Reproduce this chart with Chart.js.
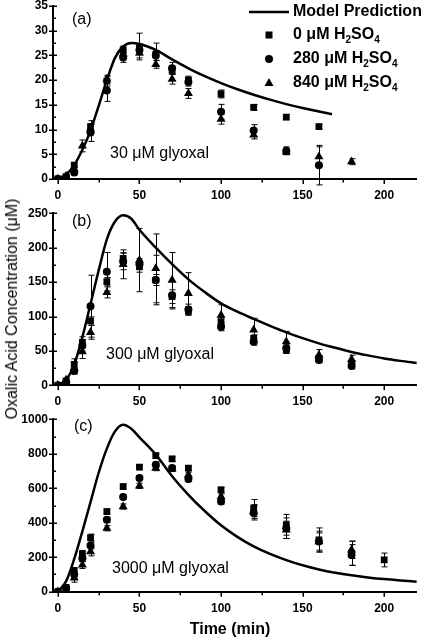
<!DOCTYPE html>
<html><head><meta charset="utf-8">
<script src="https://cdn.jsdelivr.net/npm/chart.js@4.4.0/dist/chart.umd.min.js"></script>
<style>
html,body{margin:0;padding:0;background:#fff;}
body{width:422px;height:640px;position:relative;overflow:hidden;font-family:"Liberation Sans",Arial,sans-serif;color:#000;}
canvas{position:absolute;left:0;}
#ytitle{position:absolute;left:12px;top:309px;transform:translate(-50%,-50%) rotate(-90deg);font-size:16px;white-space:nowrap;}
#xtitle{position:absolute;left:230px;top:629px;transform:translate(-50%,-50%);font-size:16px;font-weight:bold;white-space:nowrap;}
</style></head><body>
<canvas id="ca" width="422" height="206" style="top:0px"></canvas>
<canvas id="cb" width="422" height="207" style="top:206px"></canvas>
<canvas id="cc" width="422" height="227" style="top:413px"></canvas>
<div id="ytitle">Oxalic Acid Concentration (μM)</div>
<div id="xtitle">Time (min)</div>
<script>
// ---------- DATA ----------
const xTickValues = [0,25,50,75,100,125,150,175,200];
const xLabelValues = [0,50,100,150,200];
const seriesNames = ["0 μM H2SO4","280 μM H2SO4","840 μM H2SO4"];

// Panel (a): 30 uM glyoxal
const timeA = [0,5,10,15,20,30,40,50,60,70,80,100,120,140,160,180];
const a0    = [0,0.5,2.8,null,10.6,19.8,26.1,26.8,25.2,22.0,20.0,17.2,14.5,12.5,10.6,null];
const a280  = [0,0.3,1.3,null,9.4,17.9,24.6,26.1,25.0,22.4,19.6,13.6,9.8,5.7,2.8,null];
const a840  = [0,0.6,2.0,6.7,10.2,20.2,25.3,25.5,23.2,20.2,17.3,12.1,8.9,5.5,4.5,3.5];
const a0Err   = [0,0.3,0.5,0,1.2,1.0,0.8,2.7,2.3,0.8,0.8,0.8,0.6,0.5,0.5,0];
const a280Err = [0,0.3,0.5,0,1.8,2.2,1.0,1.0,1.0,1.2,0.8,1.5,1.2,0.8,4.0,0];
const a840Err = [0,0.3,0.5,1.2,0.8,0.8,0.8,1.0,0.8,1.0,1.0,1.0,0.8,0.5,2.0,0.6];
const modelTimeA = [0,5,10,15,20,25,30,35,40,45,50,55,60,70,80,90,100,110,120,130,140,150,160,168];
const modelA     = [0,0.9,2.8,5.9,9.8,14.8,20.0,24.5,26.8,27.5,27.3,26.8,26.1,24.2,22.4,20.8,19.4,18.15,17.05,16.05,15.15,14.35,13.65,13.1];
const yTicksA = [0,2.5,5,7.5,10,12.5,15,17.5,20,22.5,25,27.5,30,32.5,35];

// Panel (b): 300 uM glyoxal
const timeB = [0,5,10,15,20,30,40,50,60,70,80,100,120,140,160,180];
const b0    = [0,6,30.5,62.5,93.5,150.6,184.6,172.4,153,128.8,108,92.5,68.3,51.3,39.2,32];
const b280  = [0,4,21.2,58,115,165,180,176,153,131,110,85.2,63.4,53.8,36.8,28];
const b840  = [0,7.7,25,48.9,77,135,175.9,182,170,153,133.7,102,80.4,63.4,44,37.8];
const b0Err   = [0,3,8,8,6,6,8,8,36,10,6,6,5,5,4,4];
const b280Err = [0,3,5,8,45,28,12,8,8,20,8,6,5,5,4,4];
const b840Err = [0,3,8,10,10,8,21,46,50,40,30,15,17,15,8,6];
const modelTimeB = [0,5,10,15,20,25,30,35,40,45,50,60,70,80,90,100,110,120,130,140,150,160,170,180,190,200,210,220];
const modelB     = [0,8,30,70,118,167,212,238,247,242,226,200,176,154,135.5,119,107,96.5,86.5,77,68.5,61,54.5,48.5,43.5,39,35.5,32.5];
const yTicksB = [0,25,50,75,100,125,150,175,200,225,250];

// Panel (c): 3000 uM glyoxal
const timeC = [0,5,10,15,20,30,40,50,60,70,80,100,120,140,160,180,200];
const c0    = [0,25,120,219,314,465,610,723,789,770,717,591,485,388,300,223,184];
const c280  = [0,20,100,194,268,417,549,659,737,717,653,523,456,368,291,213,null];
const c840  = [0,15,80,155,233,368,494,614,717,712,678,552,465,359,291,243,null];
const c0Err   = [0,10,20,20,20,15,15,15,15,15,15,15,50,60,70,70,40];
const c280Err = [0,10,20,20,20,15,15,15,15,15,15,15,40,60,60,60,0];
const c840Err = [0,10,25,20,25,15,15,15,15,15,15,15,40,50,50,50,0];
const modelTimeC = [0,5,10,15,20,25,30,35,40,45,50,60,70,80,90,100,110,120,130,140,150,160,170,180,190,200,210,220];
const modelC     = [0,60,190,350,520,690,830,930,968,945,895,795,670,562,468,385,318,263,219,183,153,129,110,95,83,73,65,58];
const yTicksC = [0,100,200,300,400,500,600,700,800,900,1000];

// ---------- HELPERS ----------
function pts(times, vals, errs){
  const out=[];
  times.forEach((t,i)=>{ if(vals[i]!==null && vals[i]!==undefined) out.push({x:t,y:vals[i],e:errs?errs[i]:0}); });
  return out;
}
const FONT = '"Liberation Sans", Arial, sans-serif';

const errPlugin = {
  id:'errBars',
  beforeDatasetsDraw(chart){
    const ctx=chart.ctx, xs=chart.scales.x, ys=chart.scales.y;
    ctx.save(); ctx.strokeStyle='#000'; ctx.lineWidth=1;
    chart.data.datasets.forEach(ds=>{
      if(!ds.hasErr) return;
      ds.data.forEach(p=>{
        if(!p.e) return;
        const px=Math.round(xs.getPixelForValue(p.x))+0.5;
        const y1=ys.getPixelForValue(p.y+p.e), y2=ys.getPixelForValue(p.y-p.e);
        ctx.beginPath();
        ctx.moveTo(px,y1); ctx.lineTo(px,y2);
        ctx.moveTo(px-3,y1); ctx.lineTo(px+3,y1);
        ctx.moveTo(px-3,y2); ctx.lineTo(px+3,y2);
        ctx.stroke();
      });
    });
    ctx.restore();
  }
};

const tickPlugin = {
  id:'tickMarks',
  afterDraw(chart){
    const o=chart.options.plugins.tickMarks;
    const ctx=chart.ctx, xs=chart.scales.x, ys=chart.scales.y, ca=chart.chartArea;
    ctx.save(); ctx.strokeStyle='#000'; ctx.lineWidth=1.5;
    xs.ticks.forEach(t=>{
      const px=Math.round(xs.getPixelForValue(t.value))+0.25;
      const major = t.value % 50 === 0;
      ctx.beginPath(); ctx.moveTo(px,ca.bottom); ctx.lineTo(px,ca.bottom+(major?5:3.5)); ctx.stroke();
    });
    ys.ticks.forEach(t=>{
      const py=Math.round(ys.getPixelForValue(t.value))+0.25;
      const r=t.value/o.yMajor; const major=Math.abs(r-Math.round(r))<1e-6;
      ctx.beginPath(); ctx.moveTo(ca.left-(major?4:0),py); ctx.lineTo(ca.left+(major?4:3),py); ctx.stroke();
    });
    ctx.restore();
  }
};

const textPlugin = {
  id:'panelText',
  afterDraw(chart){
    const items=chart.options.plugins.panelText.items||[];
    const ctx=chart.ctx; ctx.save(); ctx.fillStyle='#000'; ctx.textBaseline='middle'; ctx.textAlign='left';
    items.forEach(it=>{ ctx.font=it.font; ctx.fillText(it.text,it.x,it.y); });
    ctx.restore();
  }
};

function drawSub(ctx,x,y,parts){
  parts.forEach(p=>{
    if(p.sub){ ctx.font='bold 10px '+FONT; ctx.fillText(p.t,x,y+5); }
    else { ctx.font='bold 16px '+FONT; ctx.fillText(p.t,x,y); }
    x+=ctx.measureText(p.t).width;
  });
}
function splitName(name){
  const m=name.match(/^(.*H)2(SO)4$/);
  return [{t:m[1]},{t:'2',sub:true},{t:m[2]},{t:'4',sub:true}];
}

const legendPlugin = {
  id:'legendA',
  afterDraw(chart){
    const o=chart.options.plugins.legendA; if(!o||!o.show) return;
    const ctx=chart.ctx; ctx.save(); ctx.fillStyle='#000'; ctx.strokeStyle='#000';
    ctx.textBaseline='middle'; ctx.textAlign='left';
    ctx.lineWidth=2.5; ctx.beginPath(); ctx.moveTo(249,12); ctx.lineTo(289,12); ctx.stroke();
    ctx.font='bold 16px '+FONT; ctx.fillText('Model Prediction',293,12);
    const rows=[35,59,83]; const styles=['rect','circle','triangle'];
    rows.forEach((ry,i)=>{
      const mx=269;
      ctx.beginPath();
      if(styles[i]==='rect'){ ctx.rect(mx-3.5,ry-3.5,7,7); }
      else if(styles[i]==='circle'){ ctx.arc(mx,ry,4,0,Math.PI*2); }
      else { ctx.moveTo(mx,ry-5); ctx.lineTo(mx+4.5,ry+3); ctx.lineTo(mx-4.5,ry+3); ctx.closePath(); }
      ctx.fill();
      drawSub(ctx,293,ry,splitName(seriesNames[i]));
    });
    ctx.restore();
  }
};

function makePanel(id, cfg){
  const canvas=document.getElementById(id);
  const H=canvas.height;
  const chartH=cfg.chartH;
  const datasets=[
    {type:'scatter',label:'Model Prediction',data:pts(cfg.mt,cfg.mv),showLine:true,borderColor:'#000',borderWidth:2.5,
     pointRadius:0,cubicInterpolationMode:'monotone',fill:false,order:0},
    {type:'scatter',label:seriesNames[0],data:pts(cfg.t,cfg.s0,cfg.e0),hasErr:true,pointStyle:'rect',pointRadius:4.8,
     backgroundColor:'#000',borderColor:'#000',borderWidth:0},
    {type:'scatter',label:seriesNames[1],data:pts(cfg.t,cfg.s1,cfg.e1),hasErr:true,pointStyle:'circle',pointRadius:4,
     backgroundColor:'#000',borderColor:'#000',borderWidth:0},
    {type:'scatter',label:seriesNames[2],data:pts(cfg.t,cfg.s2,cfg.e2),hasErr:true,pointStyle:'triangle',pointRadius:5.2,
     backgroundColor:'#000',borderColor:'#000',borderWidth:0}
  ];
  return new Chart(canvas,{
    type:'scatter',
    data:{datasets},
    plugins:[errPlugin,tickPlugin,textPlugin,legendPlugin],
    options:{
      responsive:false,animation:false,devicePixelRatio:1,
      layout:{padding:{top:cfg.top,left:0,right:3.5,bottom:0}},
      plugins:{legend:{display:false},tooltip:{enabled:false},
        tickMarks:{yMajor:cfg.yMajor},
        panelText:{items:cfg.texts},
        legendA:{show:!!cfg.legend}},
      scales:{
        x:{type:'linear',min:-3,max:220,
          grid:{display:false,drawTicks:false},border:{display:true,color:'#000',width:2},
          afterBuildTicks:s=>{s.ticks=xTickValues.map(v=>({value:v}));},
          ticks:{autoSkip:false,maxRotation:0,padding:cfg.xpad,color:'#000',font:{family:FONT,size:12,weight:'bold'},
            callback:v=>xLabelValues.includes(v)?String(v):''},
          afterFit:s=>{s.height=H-cfg.top-chartH;s.paddingLeft=0;s.paddingRight=0;}},
        y:{type:'linear',min:0,max:cfg.ymax,
          grid:{display:false,drawTicks:false},border:{display:true,color:'#000',width:2},
          afterBuildTicks:s=>{s.ticks=cfg.yTicks.map(v=>({value:v}));},
          ticks:{autoSkip:false,padding:5,color:'#000',font:{family:FONT,size:12,weight:'bold'},
            callback:v=>{const r=v/cfg.yMajor;return Math.abs(r-Math.round(r))<1e-6?String(v):'';}},
          afterFit:s=>{s.width=53;s.paddingTop=0;s.paddingBottom=0;}}
      }
    }
  });
}

makePanel('ca',{top:6,chartH:173,xpad:9,ymax:35,yMajor:5,yTicks:yTicksA,t:timeA,s0:a0,s1:a280,s2:a840,e0:a0Err,e1:a280Err,e2:a840Err,
  mt:modelTimeA,mv:modelA,legend:true,
  texts:[{text:'(a)',x:72,y:20,font:'16px '+FONT},{text:'30 μM glyoxal',x:110,y:154,font:'16px '+FONT}]});
makePanel('cb',{top:7.3,chartH:172,xpad:9.5,ymax:250,yMajor:50,yTicks:yTicksB,t:timeB,s0:b0,s1:b280,s2:b840,e0:b0Err,e1:b280Err,e2:b840Err,
  mt:modelTimeB,mv:modelB,
  texts:[{text:'(b)',x:72,y:16,font:'16px '+FONT},{text:'300 μM glyoxal',x:106,y:149,font:'16px '+FONT}]});
makePanel('cc',{top:6.3,chartH:172.4,xpad:10,ymax:1000,yMajor:200,yTicks:yTicksC,t:timeC,s0:c0,s1:c280,s2:c840,e0:c0Err,e1:c280Err,e2:c840Err,
  mt:modelTimeC,mv:modelC,
  texts:[{text:'(c)',x:74,y:14,font:'16px '+FONT},{text:'3000 μM glyoxal',x:112,y:156,font:'16px '+FONT}]});
</script>
</body></html>
